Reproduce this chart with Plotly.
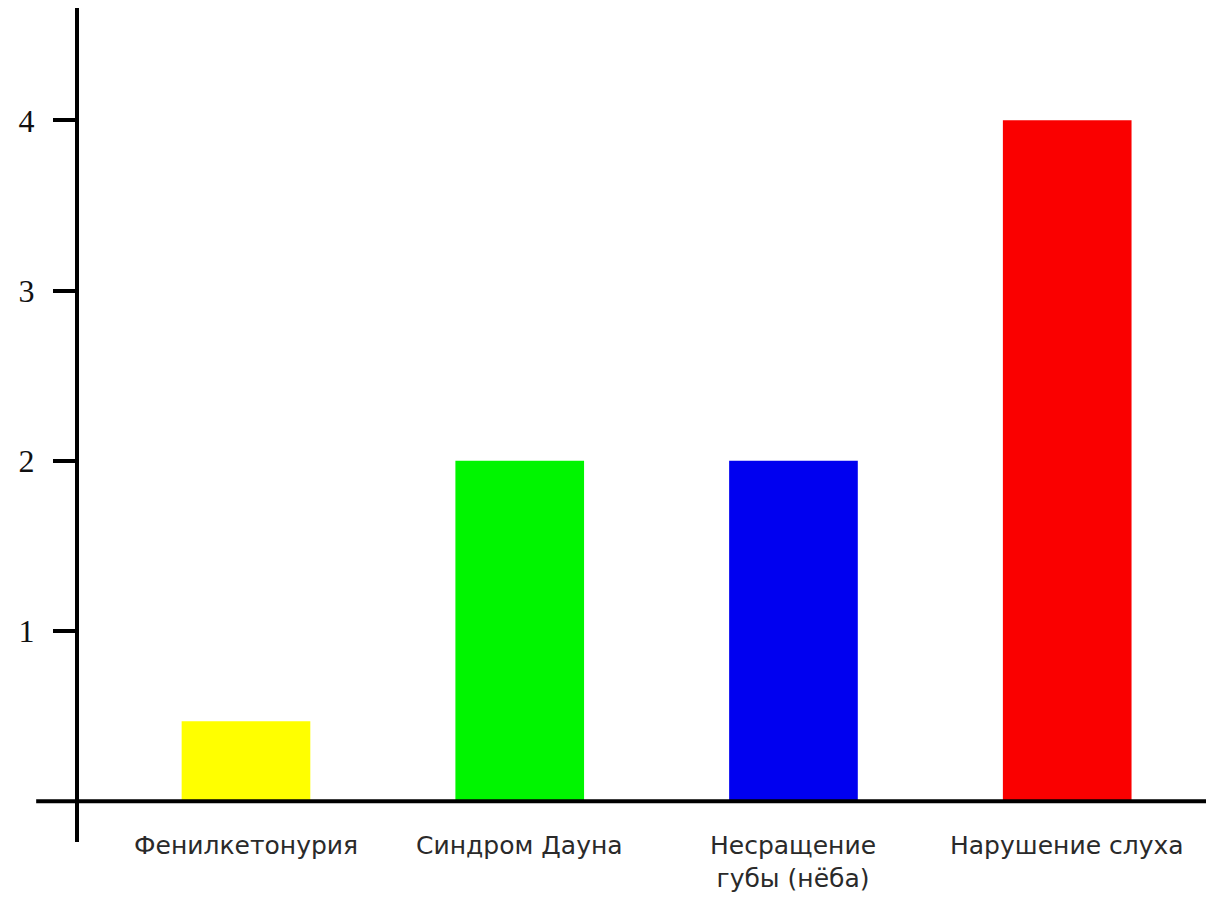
import plotly.graph_objects as go

categories = ["Фенилкетонурия", "Синдром Дауна", "Несращение<br>губы (нёба)", "Нарушение слуха"]
values = [0.47, 2.0, 2.0, 4.0]
colors = ["#ffff00", "#00f500", "#0000f0", "#fa0000"]
tick_vals = [1, 2, 3, 4]
tick_text = ["1", "2", "3", "4"]

x_idx = list(range(len(categories)))

fig = go.Figure()
fig.add_trace(go.Bar(
    x=x_idx, y=values, marker=dict(color=colors, line=dict(width=0)),
    width=0.47, hoverinfo="skip",
))

for i, c in enumerate(categories):
    fig.add_annotation(
        x=i, xref="x", y=0, yref="y", yshift=-28,
        text=c, showarrow=False, yanchor="top", xanchor="center",
        font=dict(family="DejaVu Sans", size=25, color="#2a2a2a"),
    )

# x axis line at zero, extending left past the y axis
fig.add_shape(type="line", xref="paper", yref="y", x0=-0.038, x1=1, y0=0, y1=0,
              line=dict(color="black", width=4), layer="above")

fig.update_layout(
    width=1206, height=906,
    margin=dict(l=79, r=0, t=8, b=64),
    paper_bgcolor="white", plot_bgcolor="white",
    showlegend=False,
    xaxis=dict(range=[-0.61, 3.507], visible=False, fixedrange=True),
    yaxis=dict(
        range=[-0.24, 4.66], showgrid=False, zeroline=False,
        showline=True, linecolor="black", linewidth=4,
        ticks="outside", ticklen=22, tickwidth=4, tickcolor="black",
        tickvals=tick_vals, ticktext=tick_text,
        tickfont=dict(family="Liberation Serif", size=32, color="#111111"),
        ticklabelstandoff=12,
    ),
)

fig.write_html("out.html")
